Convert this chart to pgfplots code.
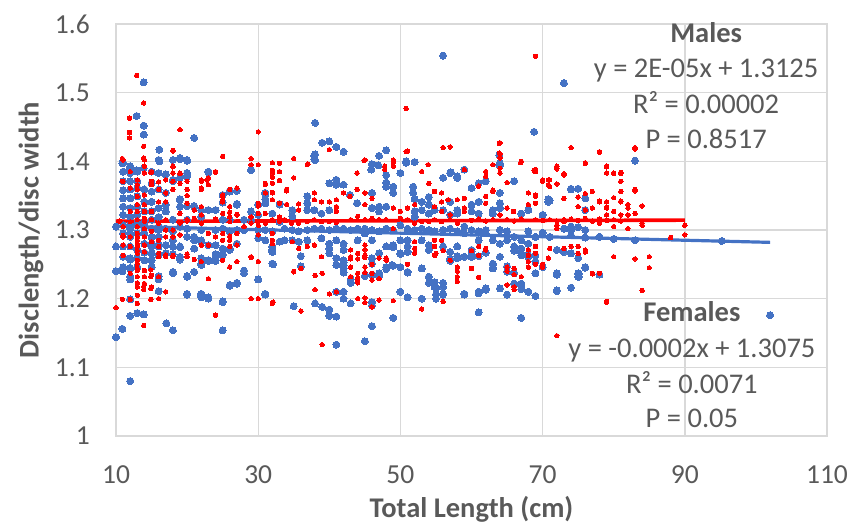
\documentclass[border=0pt]{standalone}
\usepackage{pgfplots}
\pgfplotsset{compat=1.18}
\usepackage{fontspec}
\setmainfont{Carlito}
\definecolor{fblue}{HTML}{4472C4}
\definecolor{mred}{HTML}{FF0000}
\definecolor{txt}{HTML}{595959}
\definecolor{gridc}{HTML}{D9D9D9}
\begin{document}
\begin{tikzpicture}
\begin{axis}[
  at={(0,0)}, anchor=south west,
  scale only axis, width=711pt, height=412pt,
  xmin=10, xmax=110, ymin=1, ymax=1.6,
  xtick={10,30,50,70,90,110}, ytick={1,1.1,1.2,1.3,1.4,1.5,1.6},
  xticklabels={10,30,50,70,90,110},
  yticklabels={1,1.1,1.2,1.3,1.4,1.5,1.6},
  grid=major, major grid style={gridc, line width=1.4pt},
  axis line style={gridc, line width=1.4pt},
  tick style={draw=none},
  ticklabel style={font=\fontsize{27.5}{31}\selectfont, text=txt, inner sep=0pt},
  xticklabel style={anchor=north, yshift=-29pt},
  yticklabel style={anchor=east, xshift=-26pt},
  xlabel={Total Length (cm)}, ylabel={Disclength/disc width},
  label style={font=\bfseries\fontsize{28.5}{32}\selectfont, text=txt, inner sep=0pt},
  xlabel style={at={(axis description cs:0.5,-0.198)}, anchor=base},
  ylabel style={at={(axis description cs:-0.1089,0.5)}, anchor=base},
  clip=false,
]
% Females
\addplot[only marks, mark=*, mark size=3.5pt, color=fblue, mark options={solid, fill=fblue, draw=fblue, line width=0pt}] coordinates {
(13.9,1.515)(12.9,1.466)(13.9,1.452)(13.9,1.439)(10.9,1.397)(11.9,1.39)(12.9,1.387)(13.9,1.39)(16.1,1.417)(16.1,1.4)(21,1.434)(19,1.403)(20,1.401)(17,1.381)(18,1.371)(20,1.38)(16,1.359)(17,1.354)(23,1.384)(29,1.387)(26,1.357)(27,1.357)(25,1.34)(19,1.345)(20,1.335)(21,1.335)(22,1.329)(23,1.329)(24,1.329)(27,1.338)(31,1.352)(31,1.345)(33,1.338)
(56,1.554)(73,1.514)(68.8,1.443)(38,1.456)(39,1.427)(40,1.429)(41,1.421)(42,1.414)(38,1.41)(38,1.402)(47,1.408)(48,1.416)(46,1.396)(50.8,1.398)(52,1.399)(63.9,1.409)(63.9,1.395)(57,1.383)(56,1.376)(58,1.376)(59,1.388)(62,1.371)(66,1.371)(83,1.401)(74,1.36)(75,1.36)(76,1.346)(76,1.329)(71,1.343)
(37.9,1.408)(37.9,1.403)(45.9,1.388)(46.9,1.394)(48,1.38)(48,1.369)(48,1.363)(49,1.363)(49,1.354)(50,1.383)(50.8,1.4)(57.1,1.384)(58,1.378)(51.8,1.363)(51.8,1.354)(52,1.345)(53,1.341)(54,1.348)(54,1.337)(56,1.329)(57,1.341)(58,1.329)(53,1.329)(54,1.324)(54.8,1.329)(34.8,1.329)(34.8,1.32)(36.9,1.349)(36.9,1.339)(36.9,1.329)(41,1.373)(41,1.366)(40,1.368)(42,1.366)(42.9,1.351)(43.9,1.339)(46,1.354)(46,1.332)(37.9,1.329)(38.9,1.324)(40,1.329)(47,1.334)(47,1.327)(48,1.334)(52,1.327)(52,1.319)(57,1.322)(58,1.324)
(33.7,1.302)(34.8,1.3)(35.7,1.298)(36.9,1.3)(37.9,1.302)(38.9,1.302)(40,1.3)(41,1.302)(42,1.302)(43,1.3)(44,1.302)(45,1.302)(46,1.3)(47,1.298)(48,1.302)(49,1.3)(50,1.307)(51,1.302)(52,1.3)(53,1.302)(54,1.3)(54.8,1.298)(56,1.3)(57,1.302)(58,1.298)
(33.7,1.285)(34.8,1.285)(35.7,1.283)(36.9,1.285)(38.9,1.288)(40,1.28)(40,1.273)(40,1.266)(41,1.285)(42,1.28)(42,1.271)(41,1.259)(41,1.249)(42,1.256)(42,1.244)(44,1.285)(45,1.295)(46,1.285)(46,1.259)(46,1.251)(47,1.266)(47,1.237)(48,1.246)(48.8,1.249)(50,1.246)(48,1.276)(48.8,1.276)(50,1.266)(50,1.285)(51,1.285)(51,1.276)(51,1.268)(53,1.285)(54,1.278)(54,1.271)(56,1.276)(57,1.268)(58,1.276)(58,1.259)(53,1.244)(54,1.232)(54.8,1.224)(54.8,1.217)(56,1.217)(56,1.207)(51,1.239)(50,1.21)(51,1.202)
(30,1.228)(31,1.206)(32.1,1.25)(32,1.276)(32,1.271)(35,1.189)(36,1.247)(36,1.262)(38,1.193)(39,1.188)(41,1.133)(40,1.184)(40,1.175)(41,1.174)(41,1.21)(42,1.21)(42,1.2)(43,1.193)(45,1.138)(46,1.16)(46,1.195)(46,1.19)(49,1.172)(47,1.233)(46,1.235)(45,1.233)(43,1.228)(43,1.223)(42,1.238)(42,1.248)(42,1.253)(48,1.243)(49,1.248)(49,1.275)(49,1.278)(50,1.265)(51,1.238)(53,1.244)(53,1.2)(54,1.223)(55,1.215)(55,1.206)(55,1.2)(56,1.223)(56,1.206)(57,1.255)(59,1.206)(61,1.208)(62,1.213)(61,1.18)(65,1.206)(67,1.172)(67,1.219)(67,1.214)(68,1.21)(69,1.204)(65,1.247)(66,1.237)(69,1.237)(70,1.246)(57,1.258)(58,1.262)(59,1.261)(60,1.268)(61,1.262)(62,1.267)(63,1.25)(63,1.245)(66,1.27)(67,1.266)(68,1.261)(69,1.263)
(12,1.08)(10,1.144)(10.9,1.156)(12,1.175)(13,1.179)(13.9,1.177)(12,1.199)(17.1,1.164)(18,1.154)(25,1.154)(20,1.206)(21.9,1.206)(22,1.202)(23,1.2)(25,1.196)(31,1.206)(35,1.189)(26,1.219)(27,1.223)(28,1.237)(30,1.228)(16,1.211)(16,1.228)(16,1.233)(18,1.237)(20,1.233)(12,1.228)(12,1.232)(10,1.24)(10.9,1.24)(12,1.245)(14,1.256)(10,1.276)(11,1.276)(12,1.257)(14,1.267)(15,1.266)(15,1.28)(16,1.278)(17,1.278)(18,1.276)(19,1.275)(18,1.265)(19,1.257)(22,1.251)(23,1.255)(24,1.255)(24,1.265)(25,1.265)(26,1.273)(27,1.28)(32,1.251)(32,1.275)(32,1.268)(21,1.285)(22,1.283)(23,1.278)(24,1.278)(11,1.295)(12,1.295)
(11,1.398)(11,1.385)(11,1.371)(11,1.358)(11,1.346)(11,1.334)(11,1.322)(11,1.307)(11,1.295)(11,1.276)(11,1.261)(11,1.246)
(12,1.393)(12,1.383)(12,1.371)(12,1.359)(12,1.346)(12,1.332)(12,1.319)(12,1.307)(12,1.29)(12,1.276)(12,1.259)(12,1.244)
(13,1.385)(13,1.371)(13,1.361)(13,1.349)(13,1.334)(13,1.322)(13,1.31)(13,1.295)(13,1.271)(13,1.259)(13,1.246)
(14,1.359)(14,1.341)(14,1.327)(14,1.312)(14,1.295)(14,1.28)
(15,1.385)(15,1.368)(15,1.356)(15,1.341)(15,1.327)(15,1.315)(15,1.302)(15,1.29)(15,1.276)(15,1.266)(15,1.256)(15,1.246)
(16,1.402)(16,1.383)(16,1.332)(16,1.319)(16,1.305)(16,1.29)(16,1.276)(16,1.263)
(17,1.337)(17,1.327)(17,1.302)(17,1.278)(17,1.266)
(18,1.402)(18,1.373)(18,1.315)(18,1.285)(18,1.239)
(19,1.405)(19,1.376)(19,1.344)(19,1.334)(19,1.305)(19,1.276)(19,1.261)
(20,1.402)(20,1.383)(20,1.378)(20,1.315)(20,1.29)(20,1.232)(20,1.207)
(21,1.334)(21,1.29)(21,1.273)(21,1.239)
(22,1.319)(22,1.285)(22,1.259)(22,1.249)(22,1.207)(22,1.202)
(23,1.385)(23,1.329)(23,1.256)(23,1.202)
(24,1.329)(24,1.263)(24,1.256)
(25,1.351)(25,1.315)(25,1.302)(25,1.273)(25,1.263)(25,1.195)
(26,1.356)(26,1.315)(26,1.271)(26,1.22)
(27,1.337)(27,1.3)(27,1.28)(27,1.222)
(28,1.315)(28,1.241)
(29,1.388)(29,1.327)(29,1.315)
(30,1.337)(30,1.322)(30,1.288)
(31,1.354)(31,1.339)(31,1.3)(31,1.285)(31,1.207)
(32,1.324)(32,1.276)(32,1.271)(32,1.251)
(33,1.337)(33,1.312)(33,1.283)
(10,1.305)(12,1.302)(14,1.305)(16,1.3)(18,1.298)(20,1.302)(22,1.3)(24,1.3)(26,1.298)(28,1.3)(30,1.3)(32,1.298)
(64,1.397)(64,1.394)(62,1.371)(61,1.368)(60,1.361)(66,1.371)(64,1.354)(60,1.337)(60,1.327)(61,1.341)(61,1.324)(63,1.329)(63,1.324)(64,1.339)(64,1.332)(67,1.324)(68,1.329)(70,1.322)(70.8,1.345)(70.8,1.341)(74,1.359)(75,1.36)(76,1.329)(73,1.302)(74,1.305)(74,1.3)(83,1.285)(72,1.271)(73,1.268)(74,1.266)(75,1.259)(76,1.246)(75,1.237)(75,1.232)(72,1.237)(72,1.212)(69,1.29)(68,1.28)(67,1.285)(66,1.29)(65,1.285)(68,1.263)(69,1.254)(67,1.273)(67,1.263)(66,1.276)(63,1.251)(63,1.244)(64,1.261)(65,1.239)(66,1.222)(67,1.222)(68,1.21)(64,1.215)(62,1.215)(61,1.21)(59,1.207)(60,1.271)(60,1.261)(61,1.285)(62,1.295)(63,1.285)(64,1.3)(64,1.28)(59,1.305)(60,1.3)(61,1.298)(59,1.295)
(72,1.235)(72,1.211)(74,1.216)(75.1,1.236)(75.1,1.232)(76,1.245)(78,1.235)(95.2,1.284)(102,1.176)
(70,1.296)(71,1.29)(74,1.292)(76,1.289)(78,1.29)(80,1.287)(76,1.3)(75,1.304)(62,1.3)(65,1.298)(68,1.298)
};
% Males
\addplot[only marks, mark=*, mark size=2.2pt, color=mred, mark options={solid, fill=mred, draw=mred, line width=0pt}] coordinates {
(12.9,1.525)(13.9,1.485)(11.9,1.463)(11.9,1.442)(11.9,1.434)(13.9,1.422)(13.9,1.405)(10.9,1.404)(14.9,1.384)(10.9,1.371)(18,1.416)(19,1.446)(18,1.392)(18,1.383)(19,1.382)(15,1.371)(16,1.37)(22,1.371)(22.8,1.373)(22,1.361)(24,1.384)(25,1.407)(29,1.404)(30,1.443)(30,1.395)(26,1.359)(27,1.361)(25,1.349)(25,1.341)(20,1.35)(26,1.326)(27,1.323)(30,1.339)(30,1.335)(31,1.368)(32,1.387)(32,1.377)(33,1.397)(33,1.372)(35,1.404)(35,1.376)(34,1.357)(32,1.355)(32,1.344)
(69,1.553)(50.8,1.477)(56,1.42)(40,1.417)(45,1.402)(49,1.402)(49,1.399)(37,1.396)(50.8,1.414)(53.9,1.395)(63.9,1.426)(63.9,1.412)(66.9,1.398)(68.8,1.387)(62,1.385)(63,1.395)(61,1.364)(63,1.356)(74,1.42)(78,1.413)(83,1.418)(76,1.397)(72,1.393)(72,1.389)(73,1.382)(79,1.392)(79,1.383)(80,1.382)(81,1.382)(70,1.371)(71,1.373)(71,1.363)(72,1.367)(69,1.385)(69,1.349)(77,1.356)(78,1.342)(79,1.333)(80,1.347)(81,1.342)(82,1.322)(83,1.357)(84,1.335)
(36.9,1.395)(35,1.404)(44.9,1.401)(43.9,1.383)(47.8,1.393)(47.8,1.388)(49,1.393)(51,1.415)(53,1.385)(57,1.421)(54,1.368)(54.8,1.356)(55.8,1.354)(55.8,1.341)(56.7,1.344)(58,1.344)(34,1.359)(34,1.337)(35.7,1.338)(35.7,1.329)(37.9,1.354)(37.9,1.344)(38.9,1.341)(40,1.341)(42,1.354)(42.9,1.349)(43.9,1.359)(45,1.354)(41,1.344)(41,1.334)(41,1.327)(45,1.337)(46,1.346)(49,1.332)(50,1.327)(51,1.332)(52,1.337)(54.8,1.334)(55.8,1.327)(57,1.322)
(33.7,1.315)(34.7,1.31)(35.7,1.31)(36.9,1.312)(37.9,1.315)(38.9,1.312)(40,1.312)(41,1.311)(43,1.315)(44,1.32)(45,1.315)(46,1.317)(47,1.315)(48,1.315)(49,1.302)(50,1.317)(51,1.315)(52,1.31)(53,1.312)(54,1.312)(54.8,1.315)(55.8,1.312)(57,1.315)(58,1.31)
(34.8,1.283)(35.7,1.273)(36.9,1.276)(37.9,1.278)(38.9,1.261)(43,1.271)(44,1.266)(43,1.261)(43,1.246)(44,1.237)(43,1.232)(44,1.227)(45,1.278)(45,1.271)(45,1.263)(45,1.246)(45,1.238)(46,1.237)(46,1.227)(47,1.259)(48,1.259)(52,1.283)(52,1.273)(52,1.266)(54.8,1.285)(54.8,1.276)(54.8,1.263)(55.8,1.285)(57,1.256)(58,1.246)(58,1.232)
(30,1.254)(30,1.2)(32.1,1.195)(36,1.182)(35,1.24)(36,1.244)(38,1.234)(38,1.213)(39,1.133)(40,1.207)(39,1.237)(41,1.21)(44,1.2)(45,1.201)(45,1.194)(46,1.188)(47,1.198)(49,1.197)(47,1.229)(44,1.23)(44,1.223)(43,1.258)(44,1.258)(45,1.26)(46,1.25)(48,1.256)(51,1.25)(53,1.185)(56,1.196)(58,1.24)(58,1.225)(61,1.231)(66,1.213)(65,1.24)(66,1.235)(70,1.25)(55,1.266)(56,1.27)(60,1.27)(62,1.273)(68,1.271)(69,1.25)
(13.9,1.161)(10,1.187)(10.9,1.199)(12,1.199)(13,1.193)(24,1.176)(29,1.2)(32,1.194)(13,1.223)(13.9,1.218)(13.9,1.213)(14.9,1.215)(14.9,1.199)(17,1.21)(16,1.2)(14.9,1.232)(14.9,1.242)(13,1.241)(12,1.237)(13,1.251)(12,1.276)(13,1.28)(13,1.29)(13,1.27)(16,1.266)(17,1.264)(18,1.261)(20,1.265)(21,1.257)(22,1.254)(26,1.276)(27,1.254)(29,1.26)(30,1.254)(22,1.278)(23,1.278)(25,1.285)(26,1.291)(35,1.239)(11,1.292)
(11,1.402)(11,1.371)(11,1.305)(11,1.29)(11,1.278)(11,1.263)
(12,1.385)(12,1.361)(12,1.327)(12,1.29)(12,1.237)
(13,1.373)(13,1.366)(13,1.359)(13,1.349)(13,1.337)(13,1.327)(13,1.315)(13,1.305)(13,1.295)(13,1.285)(13,1.276)(13,1.266)(13,1.256)(13,1.244)(13,1.232)(13,1.217)(13,1.205)
(14,1.402)(14,1.393)(14,1.383)(14,1.351)(14,1.337)(14,1.327)(14,1.317)(14,1.302)(14,1.29)(14,1.278)(14,1.268)(14,1.241)(14,1.232)(14,1.222)
(15,1.385)(15,1.366)(15,1.327)(15,1.315)(15,1.298)(15,1.283)(15,1.234)(15,1.217)
(16,1.359)(16,1.341)(16,1.285)(16,1.276)(16,1.261)(16,1.232)
(17,1.373)(17,1.354)(17,1.341)(17,1.3)(17,1.29)(17,1.261)
(18,1.415)(18,1.393)(18,1.383)(18,1.371)(18,1.359)(18,1.3)(18,1.29)(18,1.263)
(19,1.383)(19,1.368)(19,1.324)(19,1.31)(19,1.293)
(20,1.371)(20,1.359)(20,1.339)(20,1.315)(20,1.261)
(21,1.329)(21,1.317)
(22,1.373)(22,1.359)(22,1.334)(22,1.322)(22,1.278)
(23,1.376)(23,1.366)(23,1.295)(23,1.278)(23,1.229)
(24,1.385)(24,1.29)
(25,1.407)(25,1.351)(25,1.344)(25,1.324)(25,1.295)(25,1.256)
(26,1.359)(26,1.334)(26,1.319)(26,1.285)(26,1.246)
(27,1.361)(27,1.322)(27,1.295)(27,1.278)
(28,1.305)
(29,1.395)(29,1.319)(29,1.261)(29,1.2)
(30,1.339)(30,1.324)(30,1.307)(30,1.293)
(31,1.366)(31,1.354)(31,1.324)(31,1.312)
(32,1.398)(32,1.383)(32,1.368)(32,1.354)(32,1.315)(32,1.295)(32,1.285)(32,1.28)(32,1.193)
(33,1.385)(33,1.339)(33,1.319)
(34,1.359)(34,1.337)
(10.5,1.313)(12,1.312)(14,1.313)(16,1.31)(17,1.315)(20,1.313)(22,1.31)(24,1.316)(26,1.312)(29,1.31)(31,1.31)(33,1.313)
(64,1.427)(64,1.411)(64,1.405)(64,1.39)(64,1.383)(67,1.4)(69,1.388)(59,1.388)(62,1.378)(65,1.369)(63,1.358)(68,1.354)(69,1.351)(59,1.346)(59,1.332)(59,1.327)(62,1.349)(62,1.339)(64,1.322)(65,1.332)(65.9,1.327)(69,1.339)(68,1.337)(70.8,1.373)(70.8,1.366)(73,1.38)(70,1.373)(76,1.398)(78,1.414)(79,1.393)(73,1.346)(75,1.348)(76,1.353)(76,1.329)(77,1.332)(78,1.341)(79,1.341)(79,1.332)(80,1.383)(81,1.384)(81,1.371)(81,1.356)(81,1.341)(80,1.327)(83,1.42)(83,1.359)(83,1.324)(82,1.337)(82,1.332)(75,1.334)
(71,1.315)(72,1.313)(73,1.315)(74,1.316)(75,1.314)(76,1.317)(77,1.313)(78,1.316)(79,1.314)(80,1.315)(81,1.313)
(72,1.307)(73,1.312)(72,1.302)(78,1.31)(79,1.322)(80,1.305)(81,1.322)(82,1.302)(71,1.273)(73,1.273)(74,1.276)(75,1.276)(76,1.271)(75,1.266)(76,1.268)(77,1.237)(78,1.237)(79,1.195)(80,1.261)(83,1.258)(70.8,1.259)(69,1.276)(69,1.266)(68,1.263)(68,1.254)(68,1.246)(70,1.246)(65,1.246)(66,1.244)(65,1.22)(66,1.217)(67,1.232)(60,1.244)(61,1.276)(61,1.263)(62,1.271)
(60,1.314)(61,1.316)(62,1.313)(63,1.315)(65,1.315)(66,1.313)(67,1.316)(69,1.315)(70,1.314)
(84,1.31)(84,1.307)(90,1.307)(90,1.293)(88,1.289)(85,1.261)(85,1.245)(84,1.212)(77,1.236)(79,1.196)(72,1.146)
};
% Trend lines
\addplot[mred, line width=3.6pt, no marks] coordinates {(10,1.3127) (90,1.3143)};
\addplot[fblue, line width=3.2pt, no marks] coordinates {(10,1.3057) (102,1.282)};
% Annotations
\begin{scope}[every node/.style={text=txt, font=\fontsize{28.5}{32}\selectfont, anchor=base, inner sep=0pt}]
\node[font=\bfseries\fontsize{28.5}{32}\selectfont] at (axis cs:93.0,1.5729) {Males};
\node at (axis cs:93.0,1.5224) {y = 2E-05x + 1.3125};
\node at (axis cs:93.0,1.470) {R² = 0.00002};
\node at (axis cs:93.0,1.419) {P = 0.8517};
\node[font=\bfseries\fontsize{28.5}{32}\selectfont] at (axis cs:91.0,1.1662) {Females};
\node at (axis cs:91.0,1.1143) {y = -0.0002x + 1.3075};
\node at (axis cs:91.0,1.0618) {R² = 0.0071};
\node at (axis cs:91.0,1.0122) {P = 0.05};
\end{scope}
\end{axis}
\pgfresetboundingbox
\path[use as bounding box] (-116pt,-89pt) rectangle (735pt,436pt);
\end{tikzpicture}
\end{document}
